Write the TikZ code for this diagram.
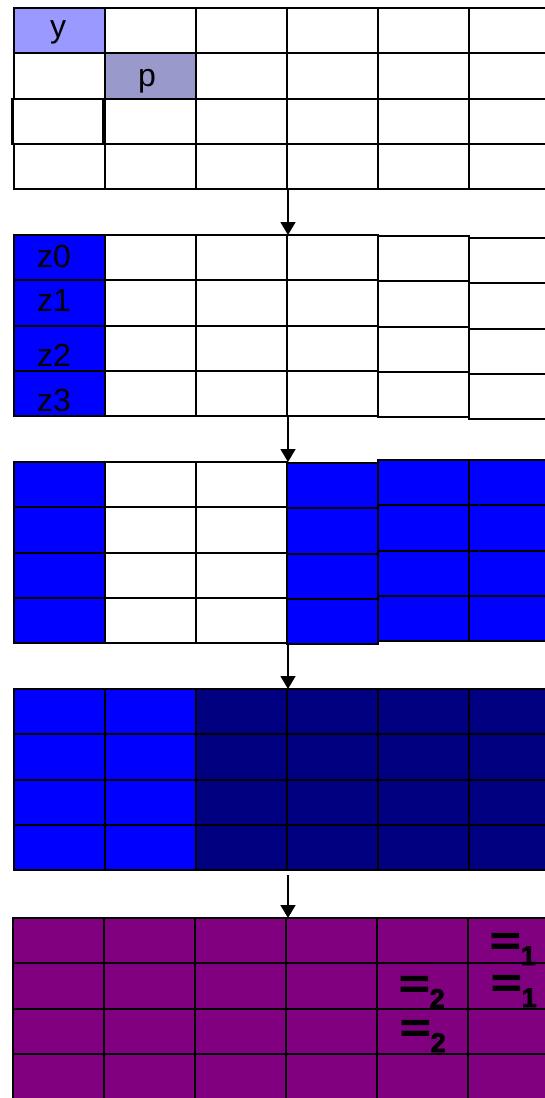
\documentclass[tikz,border=0pt]{standalone}
\usepackage{fontspec}
\setmainfont{Liberation Sans}
\newfontfamily\eqfont{Liberation Sans}[BoldFeatures={FakeBold=2.5}]
\usepackage{graphicx}
\usetikzlibrary{arrows.meta}

\definecolor{ylight}{RGB}{153,153,255}
\definecolor{pgray}{RGB}{153,153,204}
\definecolor{zblue}{RGB}{0,0,255}
\definecolor{znavy}{RGB}{0,0,128}
\definecolor{zpurple}{RGB}{128,0,128}

\newcommand{\eqsub}[1]{\scalebox{1.45}[1.1]{=}\raisebox{-11pt}{\fontsize{27}{27}\selectfont #1}}

\begin{document}
\begin{tikzpicture}[x=1pt,y=-1pt,
  cell/.style={draw=black,line width=2.2pt},
  lbl/.style={inner sep=0pt,font=\fontsize{32}{32}\selectfont},
  eqlbl/.style={inner sep=0pt,anchor=base west,font=\fontsize{36}{36}\eqfont\bfseries},
  flow/.style={line width=1.5pt,-{Triangle[length=13pt,width=15pt]}}]
\def\gx{14}
\def\cw{91}
\def\rh{45.3}

\useasboundingbox (0,0) rectangle (545,1098);

% grid 1
\foreach \c in {0,...,5}
  \foreach \r in {0,...,3}
    \draw[cell,fill=white] (\gx+\c*\cw,8+\r*\rh) rectangle ++(\cw,\rh);
\draw[cell,fill=ylight] (\gx,8) rectangle ++(\cw,\rh);
\draw[cell,fill=pgray] (\gx+\cw,8+\rh) rectangle ++(\cw,\rh);
\draw[cell,fill=white] (\gx-1.5,8+2*\rh) rectangle ++(\cw,\rh);

% grid 2
\foreach \c/\fc/\dy in {0/zblue/0,1/white/0,2/white/0,3/white/0,4/white/1,5/white/3}
  \foreach \r in {0,...,3}
    \draw[cell,fill=\fc] (\gx+\c*\cw,235+\dy+\r*\rh) rectangle ++(\cw,\rh);

% grid 3
\foreach \c/\fc/\dy in {0/zblue/0,1/white/0,2/white/0,3/zblue/1,4/zblue/-2,5/zblue/-2}
  \foreach \r in {0,...,3}
    \draw[cell,fill=\fc] (\gx+\c*\cw,462+\dy+\r*\rh) rectangle ++(\cw,\rh);

% grid 4
\foreach \c/\fc in {0/zblue,1/zblue,2/znavy,3/znavy,4/znavy,5/znavy}
  \foreach \r in {0,...,3}
    \draw[cell,fill=\fc] (\gx+\c*\cw,689+\r*\rh) rectangle ++(\cw,\rh);

% grid 5
\foreach \c in {0,...,5}
  \foreach \r in {0,...,3}
    \draw[cell,fill=zpurple] (13+\c*\cw,918+\r*\rh) rectangle ++(\cw,\rh);

\coordinate (g1b) at (288,189);
\coordinate (g2t) at (288,235);
\coordinate (g2b) at (288,416);
\coordinate (g3t) at (288,462);
\coordinate (g3b) at (288,643);
\coordinate (g4t) at (288,689);
\coordinate (g4b) at (288,875);
\coordinate (g5t) at (288,918);

\draw[flow] (g1b) -- (g2t);
\draw[flow] (g2b) -- (g3t);
\draw[flow] (g3b) -- (g4t);
\draw[flow] (g4b) -- (g5t);

\node[lbl] (y) at (58,32) {y};
\node[lbl] (p) at (147,81) {p};
\node[lbl] (z0) at (54,256) {z0};
\node[lbl] (z1) at (54,300) {z1};
\node[lbl] (z2) at (54,355) {z2};
\node[lbl] (z3) at (54,400) {z3};

\node[eqlbl] (e1) at (490,954) {\eqsub{1}};
\node[eqlbl] (e2) at (491,996) {\eqsub{1}};
\node[eqlbl] (e3) at (399,997) {\eqsub{2}};
\node[eqlbl] (e4) at (400,1041) {\eqsub{2}};
\end{tikzpicture}
\end{document}
